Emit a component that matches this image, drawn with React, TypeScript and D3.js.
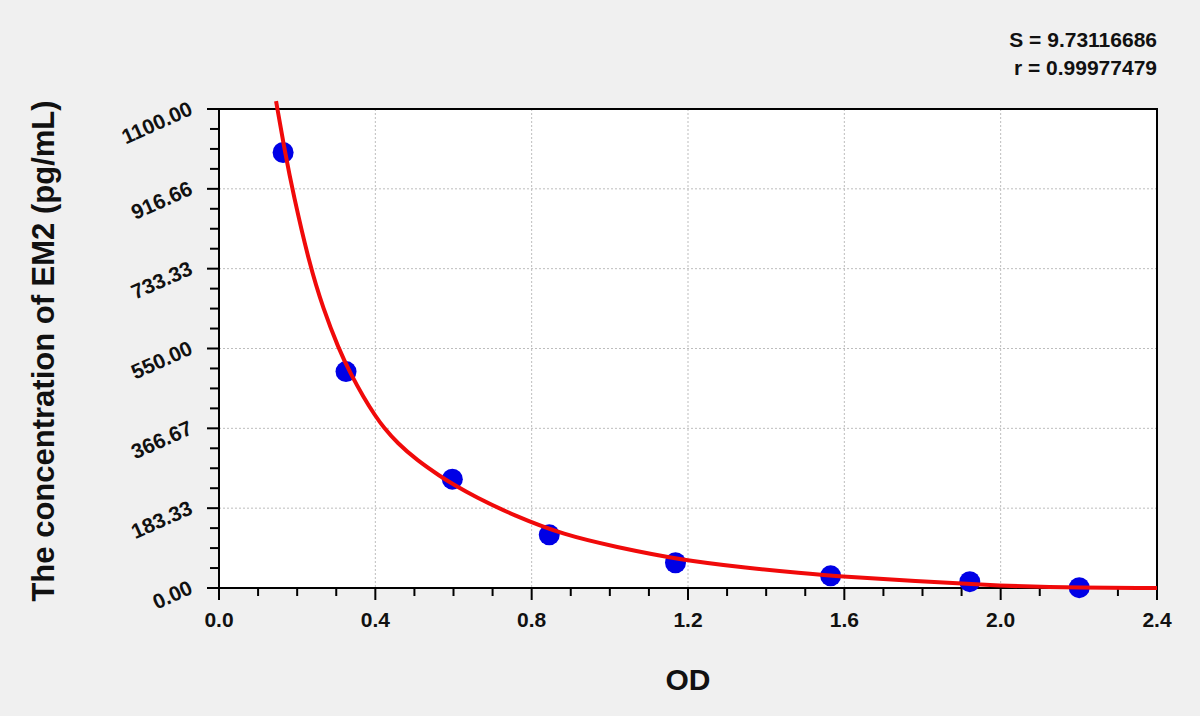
// Standard curve for EM2 ELISA: OD vs concentration, measured points + fitted line.
import { useEffect, useRef } from "react";
import * as d3 from "d3";

const POINT_OD = [0.164, 0.325, 0.597, 0.845, 1.168, 1.565, 1.921, 2.201];
const POINT_CONC = [1000, 497, 250, 122, 58, 28, 14.5, 0.7];

// fitted curve, sampled along the drawn red line
const CURVE_OD = [
  0.146, 0.169, 0.19, 0.231, 0.267, 0.306, 0.336, 0.37, 0.4, 0.421, 0.456, 0.507, 0.567,
  0.601, 0.652, 0.755, 0.883, 1.012, 1.183, 1.354, 1.482, 1.611, 1.782, 1.953, 2.099, 2.4,
];
const CURVE_CONC = [
  1118, 1000, 905, 745, 640, 550, 493, 438, 395, 369, 333, 293, 256, 237, 211, 166, 122,
  95, 64, 46, 35, 25, 16, 7.6, 1.6, 0,
];

const X_TICKS = [0, 0.4, 0.8, 1.2, 1.6, 2.0, 2.4];
const Y_TICKS = [0, 183.33, 366.67, 550, 733.33, 916.66, 1100];
const Y_TICK_LABELS = ["0.00", "183.33", "366.67", "550.00", "733.33", "916.66", "1100.00"];

const STATS = ["S = 9.73116686", "r = 0.99977479"];
const X_LABEL = "OD";
const Y_LABEL = "The concentration of EM2 (pg/mL)";

const W = 1200;
const H = 716;
const FONT = "'Liberation Sans', Arial, sans-serif";

export default function App() {
  const ref = useRef<SVGSVGElement>(null);

  useEffect(() => {
    const node = ref.current;
    if (!node) return;
    const svg = d3.select(node);
    svg.selectAll("*").remove();

    const plot = { left: 219, top: 109, right: 1157, bottom: 588 };
    const x = d3.scaleLinear().domain([0, 2.4]).range([plot.left, plot.right]);
    const y = d3.scaleLinear().domain([0, 1100]).range([plot.bottom, plot.top]);

    svg.append("rect").attr("width", W).attr("height", H).attr("fill", "#f0f0f0");
    svg
      .append("rect")
      .attr("x", plot.left)
      .attr("y", plot.top)
      .attr("width", plot.right - plot.left)
      .attr("height", plot.bottom - plot.top)
      .attr("fill", "#fff");

    // dotted grid
    const grid = svg
      .append("g")
      .attr("stroke", "#bdbdbd")
      .attr("stroke-width", 1)
      .attr("stroke-dasharray", "2 2");
    X_TICKS.slice(1, -1).forEach((v) =>
      grid.append("line").attr("x1", x(v)).attr("x2", x(v)).attr("y1", plot.top).attr("y2", plot.bottom),
    );
    Y_TICKS.slice(1, -1).forEach((v) =>
      grid.append("line").attr("x1", plot.left).attr("x2", plot.right).attr("y1", y(v)).attr("y2", y(v)),
    );

    // ticks — majors + 3 minors between each pair
    const ticks = svg.append("g").attr("stroke", "#000").attr("stroke-width", 2);
    const xMinor: number[] = [];
    for (let i = 0; i < X_TICKS.length - 1; i++)
      for (let k = 1; k < 4; k++) xMinor.push(X_TICKS[i] + ((X_TICKS[i + 1] - X_TICKS[i]) * k) / 4);
    const yMinor: number[] = [];
    for (let i = 0; i < Y_TICKS.length - 1; i++)
      for (let k = 1; k < 4; k++) yMinor.push(Y_TICKS[i] + ((Y_TICKS[i + 1] - Y_TICKS[i]) * k) / 4);

    X_TICKS.forEach((v) =>
      ticks.append("line").attr("x1", x(v)).attr("x2", x(v)).attr("y1", plot.bottom).attr("y2", plot.bottom + 12),
    );
    xMinor.forEach((v) =>
      ticks.append("line").attr("x1", x(v)).attr("x2", x(v)).attr("y1", plot.bottom).attr("y2", plot.bottom + 8),
    );
    Y_TICKS.forEach((v) =>
      ticks.append("line").attr("x1", plot.left - 12).attr("x2", plot.left).attr("y1", y(v)).attr("y2", y(v)),
    );
    yMinor.forEach((v) =>
      ticks.append("line").attr("x1", plot.left - 9).attr("x2", plot.left).attr("y1", y(v)).attr("y2", y(v)),
    );

    // frame
    svg
      .append("rect")
      .attr("x", plot.left)
      .attr("y", plot.top)
      .attr("width", plot.right - plot.left)
      .attr("height", plot.bottom - plot.top)
      .attr("fill", "none")
      .attr("stroke", "#000")
      .attr("stroke-width", 2);

    // tick labels
    const fmt = d3.format(".1f");
    svg
      .append("g")
      .selectAll("text")
      .data(X_TICKS)
      .join("text")
      .attr("x", (d) => x(d))
      .attr("y", 627)
      .attr("text-anchor", "middle")
      .attr("font-family", FONT)
      .attr("font-weight", "bold")
      .attr("font-size", 21)
      .attr("fill", "#111")
      .text((d) => fmt(d));

    svg
      .append("g")
      .selectAll("text")
      .data(Y_TICKS)
      .join("text")
      .attr("transform", (d) => `translate(${plot.left - 25},${y(d) + 5}) rotate(-24)`)
      .attr("text-anchor", "end")
      .attr("font-family", FONT)
      .attr("font-weight", "bold")
      .attr("font-size", 21)
      .attr("fill", "#111")
      .text((_, i) => Y_TICK_LABELS[i]);

    // standards
    svg
      .append("g")
      .selectAll("circle")
      .data(POINT_OD)
      .join("circle")
      .attr("cx", (d) => x(d))
      .attr("cy", (_, i) => y(POINT_CONC[i]))
      .attr("r", 10.5)
      .attr("fill", "#0000e6");

    // fitted curve on top
    const line = d3
      .line<number>()
      .x((d) => x(d))
      .y((_, i) => y(CURVE_CONC[i]))
      .curve(d3.curveBasis);
    svg
      .append("path")
      .attr("d", line(CURVE_OD))
      .attr("fill", "none")
      .attr("stroke", "#f00a0a")
      .attr("stroke-width", 4)
      .attr("stroke-linejoin", "round");

    // stats, top right
    svg
      .append("g")
      .selectAll("text")
      .data(STATS)
      .join("text")
      .attr("x", plot.right)
      .attr("y", (_, i) => 47 + i * 28)
      .attr("text-anchor", "end")
      .attr("font-family", FONT)
      .attr("font-weight", "bold")
      .attr("font-size", 21)
      .attr("fill", "#111")
      .text((d) => d);

    // axis titles
    svg
      .append("text")
      .attr("x", (plot.left + plot.right) / 2)
      .attr("y", 690)
      .attr("text-anchor", "middle")
      .attr("font-family", FONT)
      .attr("font-weight", "bold")
      .attr("font-size", 30)
      .attr("fill", "#111")
      .text(X_LABEL);

    svg
      .append("text")
      .attr("transform", `translate(54,351) rotate(-90)`)
      .attr("text-anchor", "middle")
      .attr("font-family", FONT)
      .attr("font-weight", "bold")
      .attr("font-size", 31)
      .attr("fill", "#111")
      .text(Y_LABEL);
  }, []);

  return (
    <div style={{ position: "fixed", left: 0, top: 0 }}>
      <svg ref={ref} width={W} height={H} viewBox={`0 0 ${W} ${H}`} style={{ display: "block" }} />
    </div>
  );
}
